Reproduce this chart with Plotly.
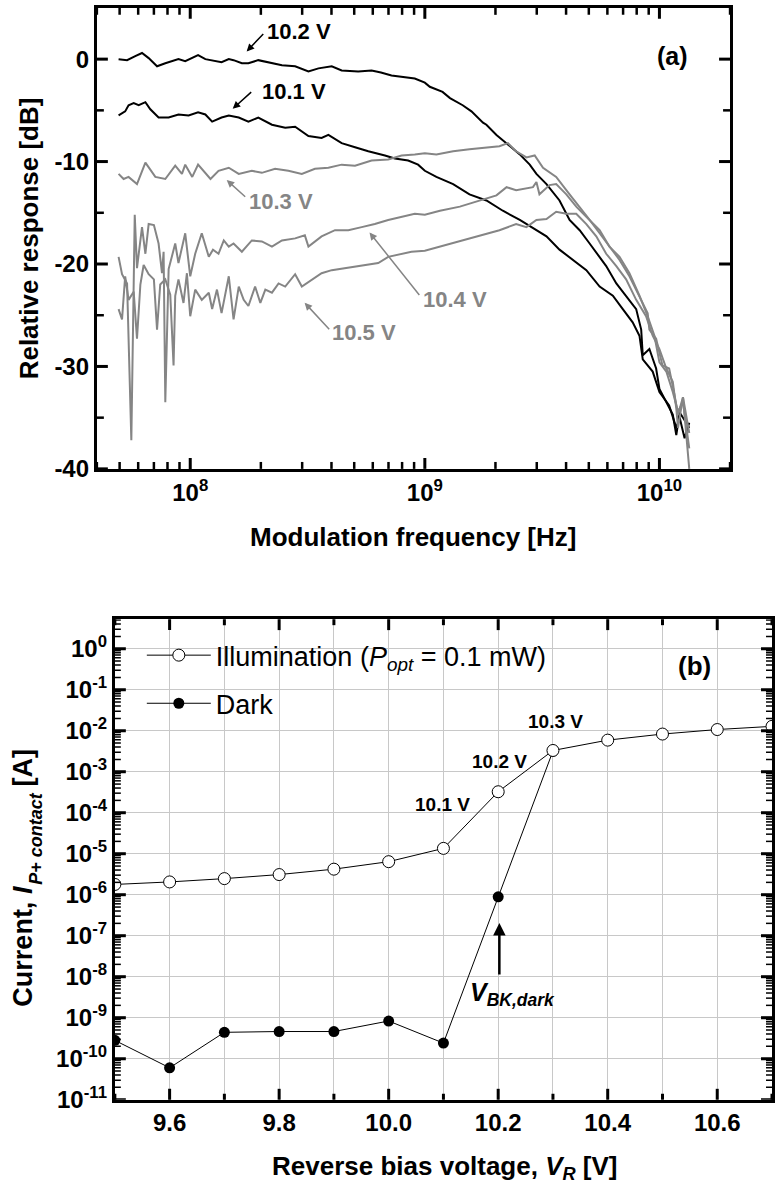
import numpy as np
import plotly.graph_objects as go

FONT = "Liberation Sans, Arial, sans-serif"
W, H = 775, 1203

# ---------------- Panel (a) data: frequency [Hz] and relative response [dB] ----------------
f_102 = [4.95e7,5.38e7,5.83e7,6.23e7,6.65e7,7.22e7,7.83e7,8.91e7,9.52e7,1.08e8,1.16e8,1.24e8,1.36e8,1.46e8,1.53e8,1.66e8,1.77e8,1.95e8,2.15e8,2.46e8,2.80e8,3.19e8,3.52e8,4.01e8,4.42e8,5.20e8,5.93e8,6.5e8,7.21e8,8.22e8,9.06e8,1.0e9,1.05e9,1.19e9,1.28e9,1.45e9,1.58e9,1.77e9,1.83e9,2.02e9,2.26e9,2.54e9,2.80e9,2.99e9,3.30e9,3.75e9,4.14e9,4.57e9,5.04e9,5.56e9,5.93e9,6.55e9,7.21e9,7.96e9,8.36e9,8.49e9,9.06e9,9.68e9,1.0e10,1.07e10,1.14e10,1.18e10,1.22e10,1.30e10,1.34e10]
r_102 = [0.0,-0.1,0.3,0.6,0.1,-0.7,-0.4,0.0,-0.2,0.4,0.0,-0.1,-0.3,0.0,-0.1,-0.4,-0.4,-0.1,-0.3,-0.6,-0.7,-1.2,-0.9,-0.7,-1.1,-1.2,-1.1,-1.3,-1.6,-1.8,-1.9,-2.3,-2.7,-3.2,-3.8,-4.5,-5.1,-6.2,-6.4,-7.4,-8.3,-9.3,-10.3,-11.2,-12.2,-13.8,-15.7,-16.7,-18.0,-19.3,-20.2,-21.9,-23.1,-24.4,-26.4,-28.9,-28.3,-30.2,-32.2,-33.5,-34.7,-36.7,-34.5,-35.5,-36.0]

f_101 = [4.95e7,5.28e7,5.46e7,5.74e7,6.03e7,6.44e7,6.76e7,7.33e7,8.09e7,8.91e7,9.84e7,1.08e8,1.16e8,1.24e8,1.36e8,1.46e8,1.61e8,1.77e8,1.95e8,2.23e8,2.54e8,2.80e8,3.19e8,3.63e8,3.88e8,4.42e8,5.04e8,5.74e8,6.76e8,7.45e8,8.49e8,9.36e8,1.0e9,1.12e9,1.32e9,1.55e9,1.83e9,2.15e9,2.54e9,2.89e9,3.30e9,3.75e9,4.28e9,4.88e9,5.56e9,6.33e9,6.98e9,7.69e9,8.22e9,8.49e9,9.36e9,1.0e10,1.10e10,1.18e10,1.22e10,1.28e10,1.34e10]
r_101 = [-5.5,-5.1,-4.5,-4.3,-4.5,-4.2,-4.9,-5.7,-5.7,-5.4,-5.5,-5.2,-5.4,-6.1,-5.7,-5.5,-5.7,-6.1,-5.7,-6.4,-6.7,-6.6,-7.5,-7.7,-7.4,-8.2,-8.6,-9.0,-9.4,-9.7,-9.9,-10.3,-10.9,-11.5,-12.2,-13.2,-13.8,-14.8,-15.7,-16.5,-17.3,-18.6,-19.6,-20.6,-22.2,-23.1,-24.4,-25.7,-27.0,-29.3,-30.5,-32.5,-33.8,-36.0,-35.0,-37.0,-35.5]

f_103 = [4.95e7,5.2e7,5.46e7,5.93e7,6.44e7,7.10e7,7.83e7,8.63e7,9.22e7,9.52e7,1.02e8,1.08e8,1.22e8,1.32e8,1.46e8,1.61e8,1.83e8,2.02e8,2.30e8,2.62e8,2.99e8,3.40e8,3.88e8,4.42e8,5.04e8,5.93e8,6.98e8,7.96e8,9.06e8,1.0e9,1.12e9,1.32e9,1.55e9,1.83e9,2.08e9,2.26e9,2.45e9,2.71e9,2.94e9,3.19e9,3.63e9,4.14e9,4.57e9,5.04e9,5.56e9,6.12e9,6.76e9,7.45e9,8.22e9,8.91e9,9.06e9,9.68e9,1.03e10,1.10e10,1.16e10,1.20e10,1.26e10,1.30e10,1.34e10]
r_103 = [-11.2,-11.7,-11.5,-12.2,-10.1,-11.5,-11.7,-10.4,-11.2,-10.3,-11.5,-10.3,-11.7,-10.9,-10.6,-11.2,-10.9,-11.1,-10.7,-10.9,-11.2,-10.7,-10.6,-10.3,-10.4,-9.9,-9.8,-9.4,-9.3,-9.2,-9.3,-9.0,-8.8,-8.6,-8.5,-8.2,-9.0,-9.6,-9.4,-10.6,-11.5,-13.2,-14.4,-15.7,-17.0,-18.3,-19.6,-21.2,-23.1,-24.8,-26.4,-27.3,-29.9,-30.2,-32.8,-34.7,-33.0,-35.0,-36.5]

f_104 = [4.95e7,5.12e7,5.38e7,5.61e7,5.80e7,5.93e7,6.23e7,6.44e7,6.65e7,7.0e7,7.33e7,7.58e7,7.70e7,7.83e7,8.09e7,8.22e7,8.63e7,8.91e7,9.52e7,1.0e8,1.05e8,1.12e8,1.20e8,1.25e8,1.32e8,1.39e8,1.46e8,1.53e8,1.66e8,1.83e8,2.02e8,2.23e8,2.46e8,2.80e8,3.08e8,3.19e8,3.63e8,4.14e8,4.72e8,5.38e8,6.12e8,6.98e8,7.96e8,9.06e8,1.0e9,1.16e9,1.41e9,1.71e9,2.02e9,2.23e9,2.45e9,2.89e9,2.99e9,3.08e9,3.40e9,3.63e9,4.01e9,4.42e9,4.88e9,5.56e9,6.12e9,6.76e9,7.45e9,8.22e9,8.91e9,9.52e9,1.0e10,1.07e10,1.14e10,1.20e10,1.26e10,1.30e10,1.34e10]
r_104 = [-19.3,-21.0,-21.9,-37.2,-15.2,-20.4,-16.4,-19.0,-16.1,-16.2,-18.0,-20.9,-18.8,-33.5,-20.5,-19.9,-18.0,-19.9,-17.0,-21.2,-19.0,-17.0,-19.3,-18.6,-19.0,-17.7,-18.3,-18.0,-18.8,-17.7,-17.8,-18.3,-17.7,-17.5,-17.2,-18.3,-17.3,-16.7,-16.7,-16.4,-16.1,-15.7,-15.4,-15.1,-15.2,-14.8,-14.4,-13.8,-13.3,-12.5,-12.8,-12.5,-12.0,-13.2,-12.3,-12.2,-13.2,-14.4,-15.4,-16.7,-18.3,-19.3,-20.9,-23.1,-25.1,-27.0,-29.6,-30.5,-32.5,-34.4,-33.5,-36.0,-38.0]

f_105 = [4.95e7,5.12e7,5.28e7,5.46e7,5.74e7,5.93e7,6.13e7,6.33e7,6.65e7,7.0e7,7.22e7,7.45e7,7.83e7,8.22e7,8.49e7,8.63e7,8.91e7,9.36e7,9.68e7,1.0e8,1.05e8,1.12e8,1.20e8,1.24e8,1.30e8,1.36e8,1.46e8,1.53e8,1.61e8,1.69e8,1.77e8,1.89e8,1.99e8,2.09e8,2.23e8,2.38e8,2.54e8,2.80e8,2.99e8,3.30e8,3.63e8,4.01e8,4.57e8,5.20e8,5.74e8,6.33e8,6.98e8,7.69e8,8.77e8,1.0e9,1.16e9,1.41e9,1.71e9,2.08e9,2.45e9,2.71e9,2.99e9,3.30e9,3.63e9,4.01e9,4.42e9,4.88e9,5.38e9,5.93e9,6.55e9,7.21e9,7.96e9,8.77e9,9.36e9,1.0e10,1.07e10,1.14e10,1.18e10,1.20e10,1.26e10,1.30e10,1.34e10]
r_105 = [-24.4,-25.4,-21.2,-23.5,-22.7,-27.3,-22.0,-20.1,-21.0,-21.5,-26.4,-22.0,-21.5,-23.0,-29.9,-23.1,-21.5,-23.8,-20.9,-25.1,-22.5,-23.5,-22.8,-24.4,-22.5,-24.8,-21.2,-25.4,-22.2,-23.5,-24.1,-22.2,-23.8,-22.5,-22.8,-21.9,-22.2,-21.0,-22.2,-21.5,-20.9,-20.6,-20.4,-20.2,-20.1,-19.9,-19.3,-19.1,-18.8,-18.7,-18.3,-17.8,-17.3,-16.7,-16.1,-16.4,-15.7,-15.6,-14.9,-15.1,-15.1,-16.1,-17.3,-19.0,-20.2,-21.5,-23.5,-25.1,-27.0,-28.3,-30.2,-31.5,-34.1,-36.0,-33.0,-37.0,-40.0]

# ---------------- Panel (b) data ----------------
v_illum = [9.5, 9.6, 9.7, 9.8, 9.9, 10.0, 10.1, 10.2, 10.3, 10.4, 10.5, 10.6, 10.7]
i_illum = [1.78e-6, 2.05e-6, 2.47e-6, 3.1e-6, 4.2e-6, 6.4e-6, 1.35e-5, 3.25e-4, 3.3e-3, 5.9e-3, 8.3e-3, 1.07e-2, 1.28e-2]
v_dark = [9.5, 9.6, 9.7, 9.8, 9.9, 10.0, 10.1, 10.2, 10.3]
i_dark = [2.8e-10, 6.0e-11, 4.4e-10, 4.6e-10, 4.6e-10, 8.3e-10, 2.4e-10, 8.9e-7, 3.2e-3]

# ---------------- tick positions ----------------
freq_major = [1e8, 1e9, 1e10]
freq_minor = [k * 10 ** e for e in range(7, 11) for k in range(2, 10) if 4e7 <= k * 10 ** e <= 2e10]
db_major = [-40, -30, -20, -10, 0]
db_minor = [-35, -25, -15, -5]
v_major = [9.6, 9.8, 10.0, 10.2, 10.4, 10.6]
v_minor = [9.5, 9.7, 9.9, 10.1, 10.3, 10.5, 10.7]
cur_major = [10.0 ** e for e in range(-11, 1)]
cur_minor = [k * 10.0 ** e for e in range(-11, 1) for k in range(2, 10)]

BLACK = "#000000"
GRAY = "#858585"
GRID = "#c8c8c8"

fig = go.Figure()

curves = [(f_102, r_102, BLACK), (f_101, r_101, BLACK),
          (f_103, r_103, GRAY), (f_104, r_104, GRAY), (f_105, r_105, GRAY)]
for f, r, c in curves:
    fig.add_trace(go.Scatter(x=f, y=r, mode="lines", line=dict(color=c, width=2),
                             xaxis="x", yaxis="y", showlegend=False, hoverinfo="skip"))

fig.add_trace(go.Scatter(x=v_dark, y=i_dark, mode="lines+markers", name="Dark",
                         line=dict(color="black", width=1),
                         marker=dict(symbol="circle", size=11, color="black"),
                         xaxis="x2", yaxis="y2", legendgroup="d", legendrank=2))
fig.add_trace(go.Scatter(x=v_illum, y=i_illum, mode="lines+markers",
                         name="Illumination (<i>P</i><sub><i>opt</i></sub> = 0.1 mW)",
                         line=dict(color="black", width=1),
                         marker=dict(symbol="circle", size=12, color="white",
                                     line=dict(color="black", width=1)),
                         xaxis="x2", yaxis="y2", legendgroup="i", legendrank=1))

def px(x):
    return x / W

def py(y):
    return 1 - y / H

# panel geometry (pixels)
A_L, A_R, A_T, A_B = 97, 731, 8, 474
B_L, B_R, B_T, B_B = 115, 773, 626, 1111.7
A_W, A_H = A_R - A_L, A_B - A_T
B_W, B_H = B_R - B_L, B_B - B_T

tickfont = dict(family=FONT, size=24, color="black", weight="bold")
common = dict(showline=True, linewidth=3, linecolor="black", mirror=True,
              ticks="", zeroline=False, tickfont=tickfont)

fig.update_layout(
    width=W, height=H, margin=dict(l=0, r=0, t=0, b=0),
    paper_bgcolor="white", plot_bgcolor="white",
    font=dict(family=FONT, color="black"),
    xaxis=dict(domain=[px(A_L), px(A_R)], anchor="y", type="log",
               range=[np.log10(4e7), np.log10(2e10)],
               tickmode="array", tickvals=freq_major,
               ticktext=["10<sup>8</sup>", "10<sup>9</sup>", "10<sup>10</sup>"],
               showgrid=False, **common),
    yaxis=dict(domain=[py(A_B), py(A_T)], anchor="x", range=[-40, 5],
               tickmode="array", tickvals=db_major, ticktext=[str(v) for v in db_major],
               showgrid=False, **common),
    xaxis2=dict(domain=[px(B_L), px(B_R)], anchor="y2", range=[9.5, 10.7],
                tickmode="array", tickvals=v_major,
                ticktext=["9.6", "9.8", "10.0", "10.2", "10.4", "10.6"],
                showgrid=True, gridcolor=GRID, gridwidth=1,
                minor=dict(tickmode="array", tickvals=v_minor, ticks="",
                           showgrid=True, gridcolor=GRID, gridwidth=1),
                **common),
    yaxis2=dict(domain=[py(B_B), py(B_T)], anchor="x2", type="log", range=[-11, 0.72],
                tickmode="array", tickvals=cur_major,
                ticktext=["10<sup>%d</sup>" % e for e in range(-11, 1)],
                showgrid=True, gridcolor=GRID, gridwidth=1, **common),
    legend=dict(x=px(142), y=py(638), xanchor="left", yanchor="top",
                font=dict(family=FONT, size=27, color="black"),
                bgcolor="rgba(0,0,0,0)", itemwidth=64,
                traceorder="grouped", tracegroupgap=10),
)

# ---------------- inward-pointing tick marks (positions taken from the tick lists) ----------------
# shapes on log axes take plain data values here
shapes = []

def xticks(xref, vals, length, plot_h, width):
    frac = length / plot_h
    for v in vals:
        for y0, y1 in ((0, frac), (1 - frac, 1)):
            shapes.append(dict(type="line", xref=xref, yref=xref.replace("x", "y") + " domain",
                               x0=v, x1=v, y0=y0, y1=y1, layer="above",
                               line=dict(color="black", width=width)))

def yticks(yref, vals, length, plot_w, width):
    frac = length / plot_w
    for v in vals:
        for x0, x1 in ((0, frac), (1 - frac, 1)):
            shapes.append(dict(type="line", xref=yref.replace("y", "x") + " domain", yref=yref,
                               x0=x0, x1=x1, y0=v, y1=v, layer="above",
                               line=dict(color="black", width=width)))

xticks("x", freq_major, 11, A_H, 3)
xticks("x", freq_minor, 7, A_H, 2.5)
yticks("y", db_major, 11, A_W, 3)
yticks("y", db_minor, 7, A_W, 2.5)
xticks("x2", v_major, 11, B_H, 3)
xticks("x2", v_minor, 6, B_H, 3)
yticks("y2", cur_major, 11, B_W, 3)
yticks("y2", cur_minor, 6, B_W, 1.5)

anns = []

def text(t, x, y, size, color="black", angle=0):
    anns.append(dict(text=t, x=px(x), y=py(y), xref="paper", yref="paper",
                     showarrow=False, xanchor="center", yanchor="middle",
                     textangle=angle, font=dict(family=FONT, size=size, color=color)))

def arrow(hx, hy, tx, ty, color="black", width=1.5):
    anns.append(dict(text="", x=px(hx), y=py(hy), xref="paper", yref="paper",
                     ax=tx - hx, ay=ty - hy, showarrow=True, arrowhead=2, arrowsize=1,
                     arrowwidth=width, arrowcolor=color))

# panel (a) labels
text("<b>10.2 V</b>", 299, 32, 22)
arrow(247, 52, 265, 33)
text("<b>10.1 V</b>", 294, 93, 22)
arrow(233, 110, 253, 92)
text("<b>10.3 V</b>", 281, 204, 22, GRAY)
arrow(227, 182, 247, 200, GRAY)
text("<b>10.4 V</b>", 456, 303, 22, GRAY)
arrow(370, 235, 421, 299, GRAY)
text("<b>10.5 V</b>", 364, 336, 22, GRAY)
arrow(305, 306, 331, 334, GRAY)
text("<b>(a)</b>", 673, 57, 25)
text("<b>Relative response [dB]</b>", 29, 241, 26, angle=-90)
text("<b>Modulation frequency [Hz]</b>", 414, 543, 26)

# panel (b) labels
text("<b>10.1 V</b>", 443, 813, 19)
text("<b>10.2 V</b>", 500, 770, 19)
text("<b>10.3 V</b>", 556, 729, 19)
text("<b>(b)</b>", 695, 673, 26)
arrow(500, 933, 500, 986, width=2.5)
text("<b><i>V</i><sub><i>BK,dark</i></sub></b>", 513, 1005, 25)
text("<b>Current, <i>I</i></b>", 23, 956, 27, angle=-90)
text("<b><i>P+ contact</i></b>", 36, 847, 18, angle=-90)
text("<b>[A]</b>", 23, 776, 27, angle=-90)
text("<b>Reverse bias voltage, <i>V</i><sub><i>R</i></sub> [V]</b>", 446, 1180, 26)

fig.update_layout(annotations=anns, shapes=shapes)

fig.write_html("out.html")
